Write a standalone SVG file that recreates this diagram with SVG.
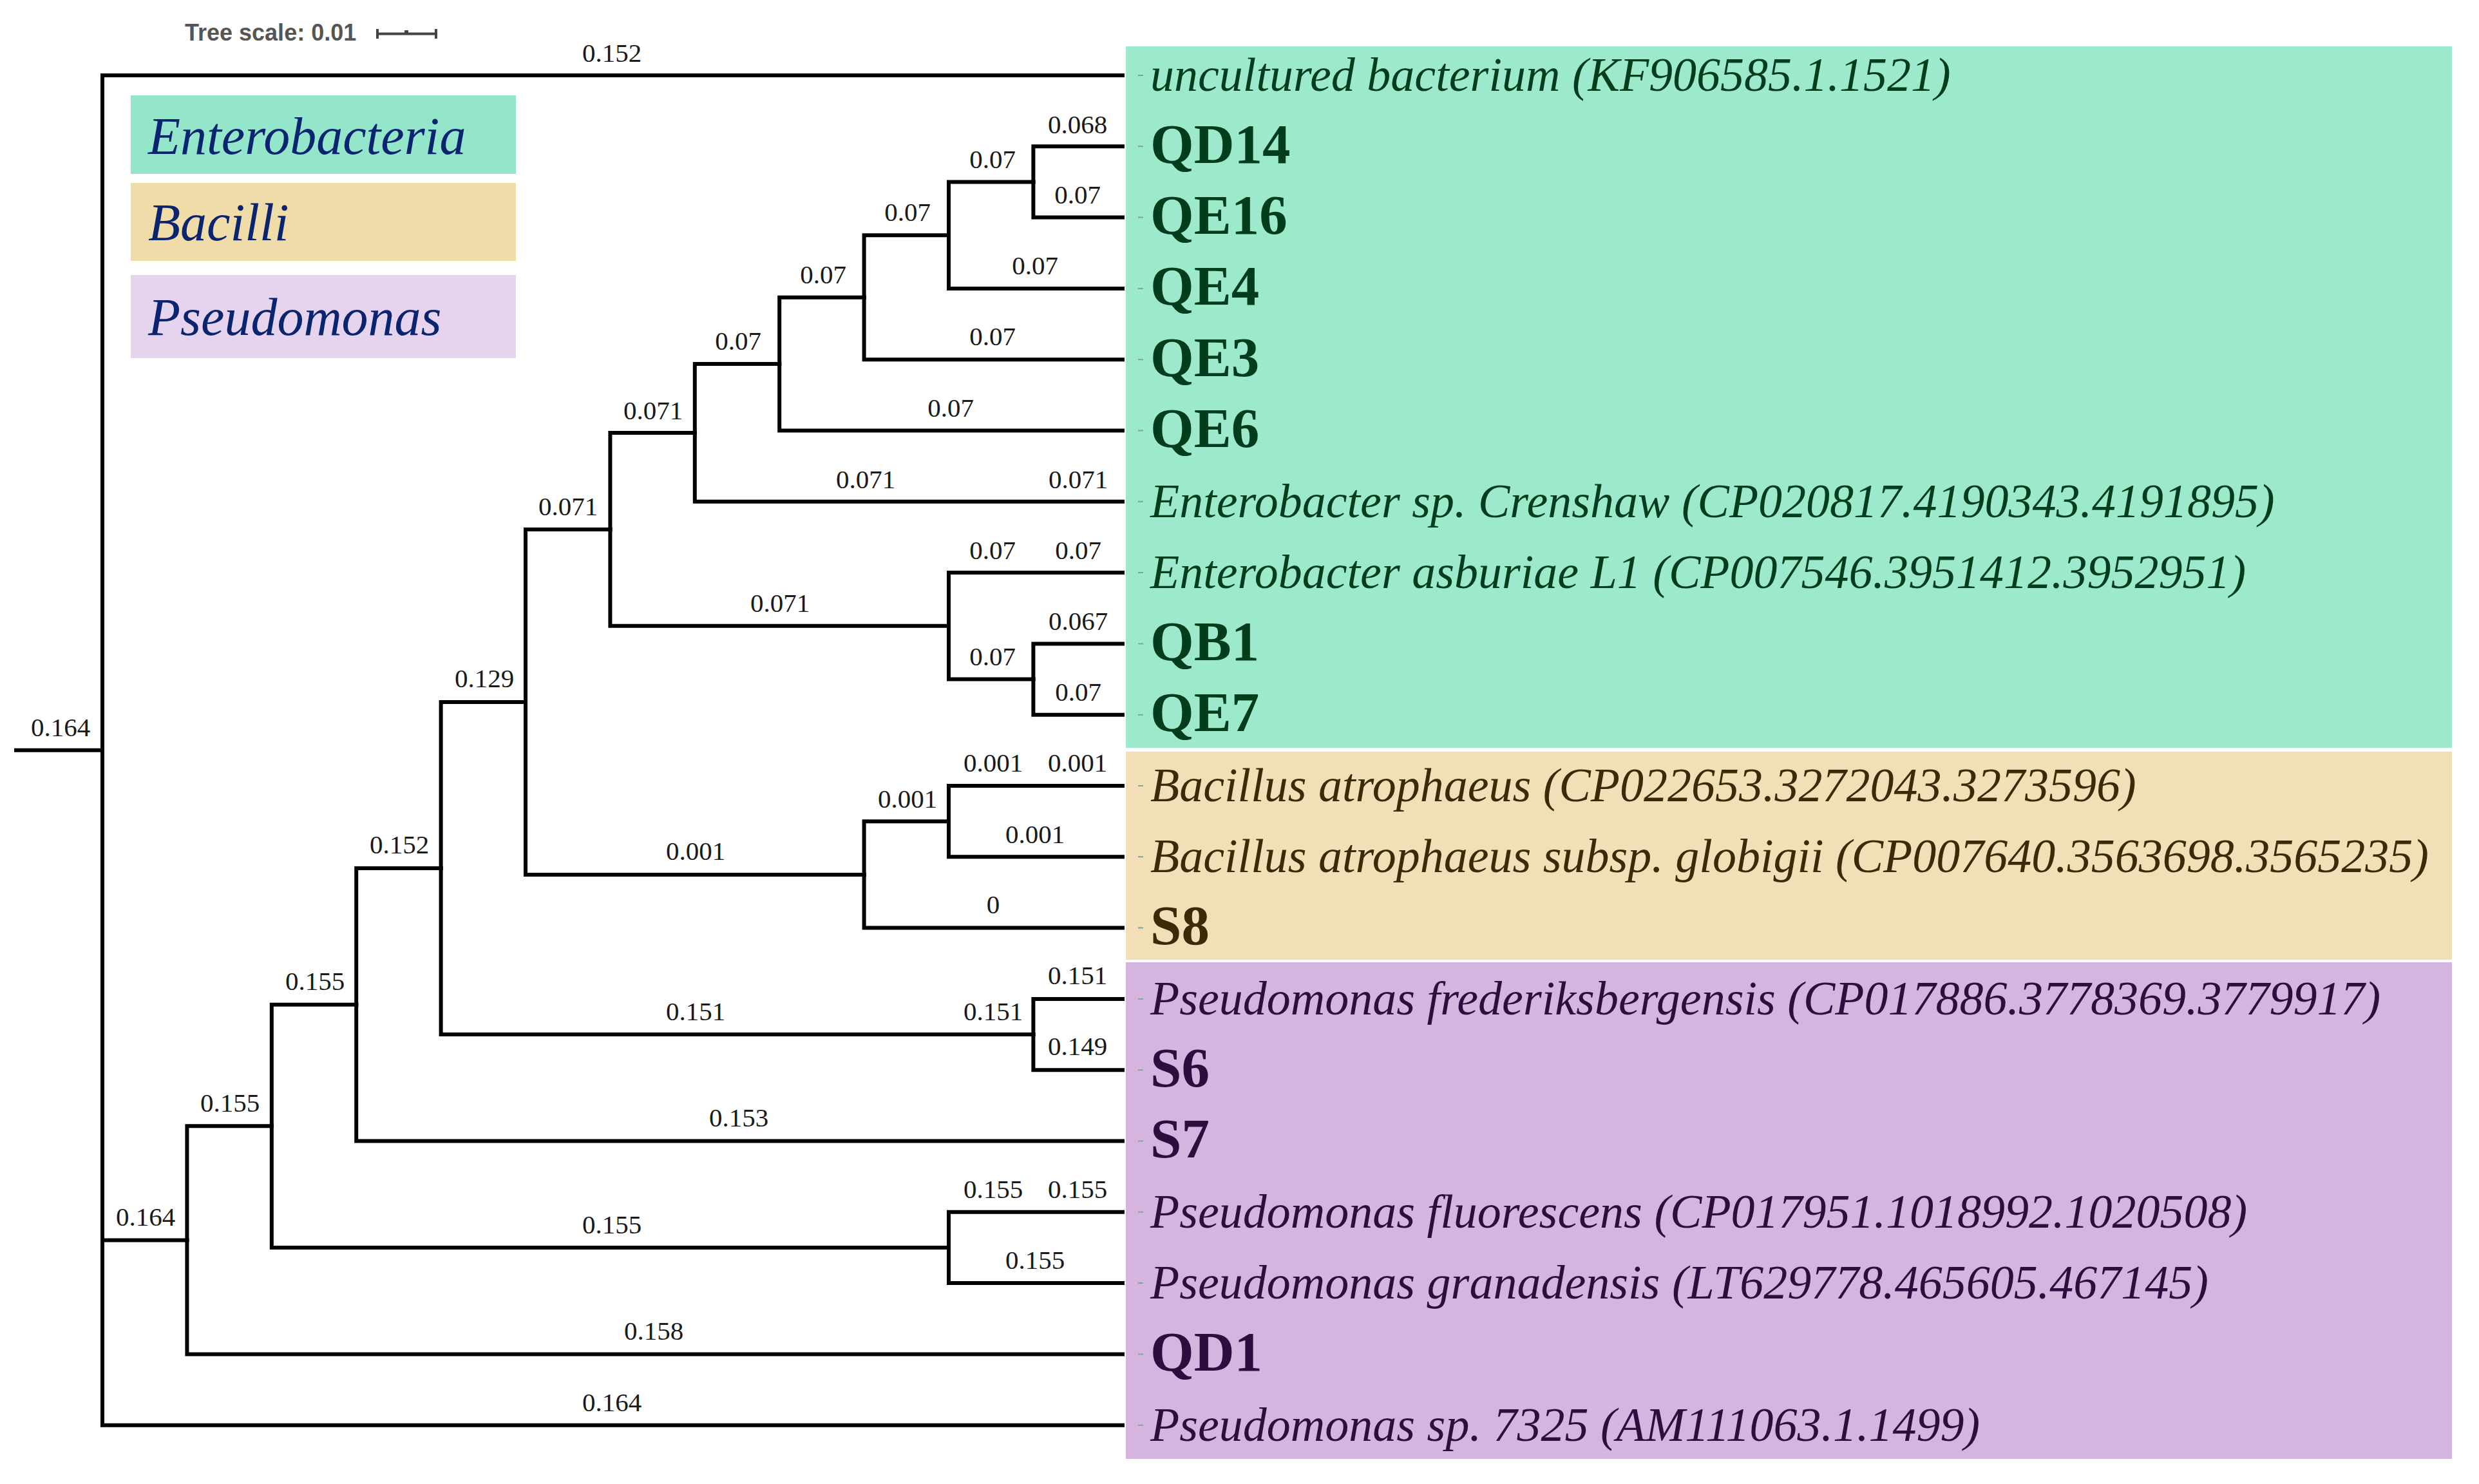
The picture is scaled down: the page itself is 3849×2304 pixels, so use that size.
<svg xmlns="http://www.w3.org/2000/svg" width="3849" height="2304" viewBox="0 0 3849 2304">
<style>
.br{fill:none;stroke:#000;stroke-width:6;stroke-linecap:square;stroke-linejoin:miter}
.bl{font-family:"Liberation Serif",serif;font-size:41px;fill:#1a1a1a;text-anchor:middle}
.it{font-family:"Liberation Serif",serif;font-size:74px;font-style:italic}
.bd{font-family:"Liberation Serif",serif;font-size:87px;font-weight:bold}
.tk{stroke:#7fa595;stroke-width:2}
.gr{fill:#003d1c}.tn{fill:#3b2a05}.pu{fill:#2e0c3e}
.lg{font-family:"Liberation Serif",serif;font-size:82px;font-style:italic;fill:#0a2470}
</style>
<rect width="3849" height="2304" fill="#fff"/>
<g id="clade-backgrounds">
<rect x="1748" y="72" width="2059" height="1089" fill="#9de9cc"/>
<rect x="1748" y="1167" width="2059" height="323" fill="#f2dfb8"/>
<rect x="1748" y="1494" width="2059" height="771" fill="#d5b4e0"/>
</g>
<g id="legend">
<rect x="203" y="148" width="598" height="122" fill="#93e6c9"/>
<rect x="203" y="284" width="598" height="121" fill="#f0dca9"/>
<rect x="203" y="427" width="598" height="129" fill="#e6d3ee"/>
<text class="lg" x="230" y="239">Enterobacteria</text>
<text class="lg" x="230" y="373">Bacilli</text>
<text class="lg" x="230" y="520">Pseudomonas</text>
</g>
<g id="tree-scale">
<text x="287" y="63" font-family="Liberation Sans, sans-serif" font-size="36" font-weight="bold" fill="#555">Tree scale: 0.01</text>
<path d="M586,52.5 H677 M586,45 V60 M677,45 V60" stroke="#444" stroke-width="4" fill="none"/>
<rect x="628" y="47" width="6" height="6" fill="#444"/>
</g>
<g id="connectors">
<path class="br" d="M25,1164.85 H159"/>
<path class="br" d="M159,1164.85 V117 H1743"/>
<path class="br" d="M159,1164.85 V1925.4 H290.4"/>
<path class="br" d="M159,1164.85 V2212.7 H1743"/>
<path class="br" d="M290.4,1925.4 V1748.35 H421.8"/>
<path class="br" d="M290.4,1925.4 V2102.4 H1743"/>
<path class="br" d="M421.8,1748.35 V1559.75 H553.2"/>
<path class="br" d="M421.8,1748.35 V1936.95 H1473"/>
<path class="br" d="M1473,1936.95 V1881.8 H1743"/>
<path class="br" d="M1473,1936.95 V1992.1 H1743"/>
<path class="br" d="M553.2,1559.75 V1348 H684.6"/>
<path class="br" d="M553.2,1559.75 V1771.5 H1743"/>
<path class="br" d="M684.6,1348 V1089.9 H816"/>
<path class="br" d="M684.6,1348 V1606.05 H1604.4"/>
<path class="br" d="M1604.4,1606.05 V1550.9 H1743"/>
<path class="br" d="M1604.4,1606.05 V1661.2 H1743"/>
<path class="br" d="M816,1089.9 V821.9 H947.4"/>
<path class="br" d="M816,1089.9 V1357.9 H1341.6"/>
<path class="br" d="M1341.6,1357.9 V1275.15 H1473"/>
<path class="br" d="M1341.6,1357.9 V1440.6 H1743"/>
<path class="br" d="M1473,1275.15 V1220 H1743"/>
<path class="br" d="M1473,1275.15 V1330.3 H1743"/>
<path class="br" d="M947.4,821.9 V671.95 H1078.8"/>
<path class="br" d="M947.4,821.9 V971.8 H1473"/>
<path class="br" d="M1473,971.8 V889.1 H1743"/>
<path class="br" d="M1473,971.8 V1054.55 H1604.4"/>
<path class="br" d="M1604.4,1054.55 V999.4 H1743"/>
<path class="br" d="M1604.4,1054.55 V1109.7 H1743"/>
<path class="br" d="M1078.8,671.95 V565.1 H1210.2"/>
<path class="br" d="M1078.8,671.95 V778.8 H1743"/>
<path class="br" d="M1210.2,565.1 V461.7 H1341.6"/>
<path class="br" d="M1210.2,565.1 V668.5 H1743"/>
<path class="br" d="M1341.6,461.7 V365.2 H1473"/>
<path class="br" d="M1341.6,461.7 V558.2 H1743"/>
<path class="br" d="M1473,365.2 V282.45 H1604.4"/>
<path class="br" d="M1473,365.2 V447.9 H1743"/>
<path class="br" d="M1604.4,282.45 V227.3 H1743"/>
<path class="br" d="M1604.4,282.45 V337.6 H1743"/>
</g>
<g id="branch-labels">
<text class="bl" x="94" y="1143">0.164</text>
<text class="bl" x="950" y="96">0.152</text>
<text class="bl" x="226" y="1903">0.164</text>
<text class="bl" x="357" y="1726">0.155</text>
<text class="bl" x="489" y="1537">0.155</text>
<text class="bl" x="620" y="1325">0.152</text>
<text class="bl" x="752" y="1067">0.129</text>
<text class="bl" x="882" y="800">0.071</text>
<text class="bl" x="1014" y="651">0.071</text>
<text class="bl" x="1146" y="543">0.07</text>
<text class="bl" x="1278" y="440">0.07</text>
<text class="bl" x="1409" y="343">0.07</text>
<text class="bl" x="1541" y="261">0.07</text>
<text class="bl" x="1673" y="207">0.068</text>
<text class="bl" x="1673" y="316">0.07</text>
<text class="bl" x="1607" y="426">0.07</text>
<text class="bl" x="1541" y="536">0.07</text>
<text class="bl" x="1476" y="647">0.07</text>
<text class="bl" x="1344" y="758">0.071</text>
<text class="bl" x="1674" y="758">0.071</text>
<text class="bl" x="1541" y="868">0.07</text>
<text class="bl" x="1674" y="868">0.07</text>
<text class="bl" x="1211" y="950">0.071</text>
<text class="bl" x="1674" y="978">0.067</text>
<text class="bl" x="1541" y="1033">0.07</text>
<text class="bl" x="1674" y="1088">0.07</text>
<text class="bl" x="1542" y="1198">0.001</text>
<text class="bl" x="1673" y="1198">0.001</text>
<text class="bl" x="1409" y="1254">0.001</text>
<text class="bl" x="1607" y="1309">0.001</text>
<text class="bl" x="1080" y="1335">0.001</text>
<text class="bl" x="1542" y="1418">0</text>
<text class="bl" x="1673" y="1528">0.151</text>
<text class="bl" x="1080" y="1584">0.151</text>
<text class="bl" x="1542" y="1584">0.151</text>
<text class="bl" x="1673" y="1638">0.149</text>
<text class="bl" x="1147" y="1749">0.153</text>
<text class="bl" x="1542" y="1860">0.155</text>
<text class="bl" x="1673" y="1860">0.155</text>
<text class="bl" x="1607" y="1970">0.155</text>
<text class="bl" x="950" y="1915">0.155</text>
<text class="bl" x="1015" y="2080">0.158</text>
<text class="bl" x="950" y="2191">0.164</text>
</g>
<g id="leaf-ticks">
<path class="tk" d="M1767,117H1775M1767,227.3H1775M1767,337.6H1775M1767,447.9H1775M1767,558.2H1775M1767,668.5H1775M1767,778.8H1775M1767,889.1H1775M1767,999.4H1775M1767,1109.7H1775M1767,1220H1775M1767,1330.3H1775M1767,1440.6H1775M1767,1550.9H1775M1767,1661.2H1775M1767,1771.5H1775M1767,1881.8H1775M1767,1992.1H1775M1767,2102.4H1775M1767,2212.7H1775"/>
</g>
<g id="leaf-uncultured"><text class="it gr" x="1786" y="141">uncultured bacterium (KF906585.1.1521)</text></g>
<g id="leaf-QD14"><text class="bd gr" x="1786" y="253">QD14</text></g>
<g id="leaf-QE16"><text class="bd gr" x="1786" y="363">QE16</text></g>
<g id="leaf-QE4"><text class="bd gr" x="1786" y="473">QE4</text></g>
<g id="leaf-QE3"><text class="bd gr" x="1786" y="584">QE3</text></g>
<g id="leaf-QE6"><text class="bd gr" x="1786" y="694">QE6</text></g>
<g id="leaf-crenshaw"><text class="it gr" x="1786" y="803">Enterobacter sp. Crenshaw (CP020817.4190343.4191895)</text></g>
<g id="leaf-asburiae"><text class="it gr" x="1786" y="913">Enterobacter asburiae L1 (CP007546.3951412.3952951)</text></g>
<g id="leaf-QB1"><text class="bd gr" x="1786" y="1025">QB1</text></g>
<g id="leaf-QE7"><text class="bd gr" x="1786" y="1135">QE7</text></g>
<g id="leaf-bacillus-atrophaeus"><text class="it tn" x="1786" y="1244">Bacillus atrophaeus (CP022653.3272043.3273596)</text></g>
<g id="leaf-bacillus-globigii"><text class="it tn" x="1786" y="1354">Bacillus atrophaeus subsp. globigii (CP007640.3563698.3565235)</text></g>
<g id="leaf-S8"><text class="bd tn" x="1786" y="1466">S8</text></g>
<g id="leaf-frederiksbergensis"><text class="it pu" x="1786" y="1575">Pseudomonas frederiksbergensis (CP017886.3778369.3779917)</text></g>
<g id="leaf-S6"><text class="bd pu" x="1786" y="1687">S6</text></g>
<g id="leaf-S7"><text class="bd pu" x="1786" y="1797">S7</text></g>
<g id="leaf-fluorescens"><text class="it pu" x="1786" y="1906">Pseudomonas fluorescens (CP017951.1018992.1020508)</text></g>
<g id="leaf-granadensis"><text class="it pu" x="1786" y="2016">Pseudomonas granadensis (LT629778.465605.467145)</text></g>
<g id="leaf-QD1"><text class="bd pu" x="1786" y="2128">QD1</text></g>
<g id="leaf-7325"><text class="it pu" x="1786" y="2237">Pseudomonas sp. 7325 (AM111063.1.1499)</text></g>
</svg>
